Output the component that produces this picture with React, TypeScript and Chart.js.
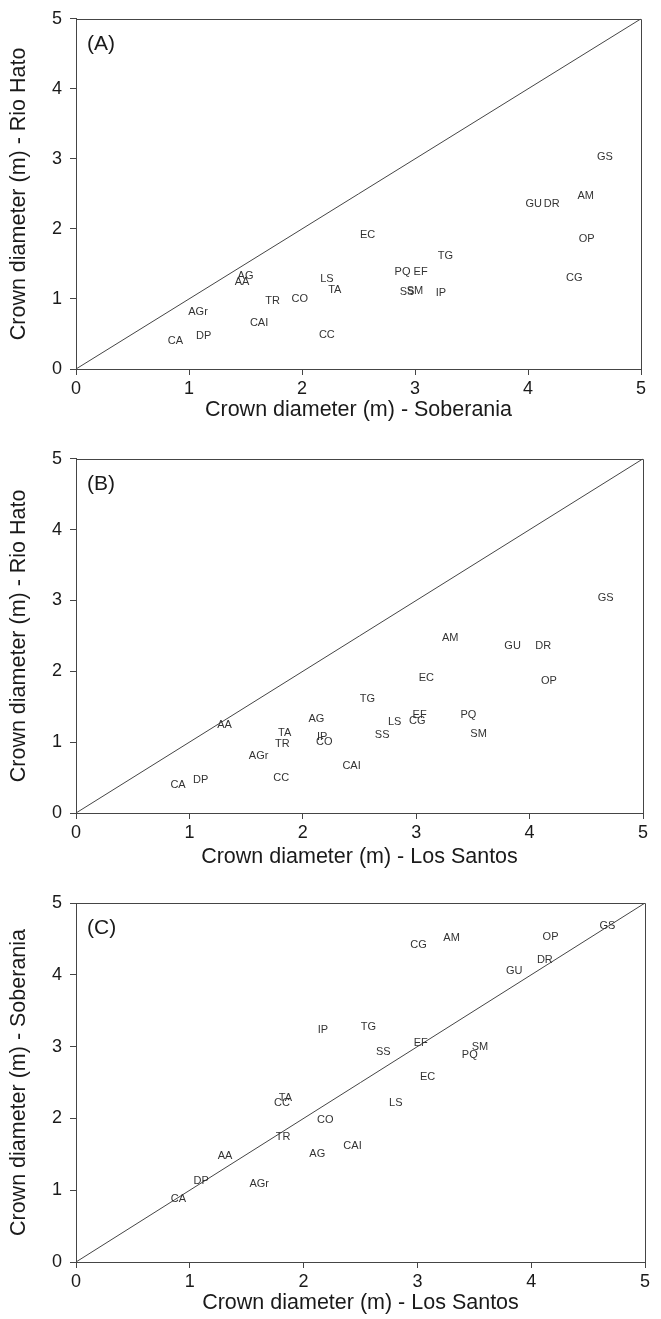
import React, { useEffect, useRef } from "react";
import { Chart, registerables } from "chart.js";

Chart.register(...registerables);

// Species codes
const species = [
  "CA", "DP", "AGr", "AA", "AG", "TR", "CO", "CAI", "CC", "LS", "TA", "SS",
  "SM", "IP", "PQ", "EF", "TG", "EC", "CG", "OP", "GU", "DR", "AM", "GS",
];

// Crown diameter (m) at each site, same order as species
const soberania = [
  0.88, 1.13, 1.08, 1.47, 1.5, 1.74, 1.98, 1.62, 2.22, 2.22, 2.29, 2.93,
  3.0, 3.23, 2.89, 3.05, 3.27, 2.58, 4.41, 4.52, 4.05, 4.21, 4.51, 4.68,
];
const losSantos = [
  0.9, 1.1, 1.61, 1.31, 2.12, 1.82, 2.19, 2.43, 1.81, 2.81, 1.84, 2.7,
  3.55, 2.17, 3.46, 3.03, 2.57, 3.09, 3.01, 4.17, 3.85, 4.12, 3.3, 4.67,
];
const rioHato = [
  0.4, 0.47, 0.81, 1.24, 1.33, 0.97, 1.0, 0.66, 0.49, 1.28, 1.13, 1.1,
  1.11, 1.08, 1.39, 1.39, 1.61, 1.91, 1.3, 1.86, 2.36, 2.36, 2.47, 3.03,
];

// 1:1 reference line end points and axis range
const identityLine = [0, 5];
const axisMin = 0;
const axisMax = 5;
const axisStep = 1;

const panelLetters = ["(A)", "(B)", "(C)"];
const xTitles = [
  "Crown diameter (m) - Soberania",
  "Crown diameter (m) - Los Santos",
  "Crown diameter (m) - Los Santos",
];
const yTitles = [
  "Crown diameter (m) - Rio Hato",
  "Crown diameter (m) - Rio Hato",
  "Crown diameter (m) - Soberania",
];

const FONT = '"Liberation Sans", Arial, Helvetica, sans-serif';
const LINE = "#454545";
const TEXT = "#1a1a1a";

type Layout = {
  top: number;
  height: number;
  padTop: number;
  padRight: number;
  xAxisHeight: number;
  xTitlePad: number;
};

const layouts: Layout[] = [
  { top: 0, height: 440, padTop: 15, padRight: 20, xAxisHeight: 71, xTitlePad: 17 },
  { top: 440, height: 440, padTop: 16, padRight: 18, xAxisHeight: 67, xTitlePad: 10 },
  { top: 880, height: 439, padTop: 23, padRight: 16, xAxisHeight: 57, xTitlePad: 3 },
];

function Panel(props: {
  letter: string;
  xs: number[];
  ys: number[];
  xTitle: string;
  yTitle: string;
  layout: Layout;
}) {
  const ref = useRef<HTMLCanvasElement | null>(null);
  const { letter, xs, ys, xTitle, yTitle, layout } = props;

  useEffect(() => {
    if (!ref.current) return;
    const labelPlugin = {
      id: "labels" + letter,
      afterDatasetsDraw(chart: any) {
        const ctx = chart.ctx;
        const area = chart.chartArea;
        ctx.save();
        // box frame
        ctx.strokeStyle = LINE;
        ctx.lineWidth = 1;
        ctx.beginPath();
        ctx.moveTo(Math.round(area.left) + 0.5, Math.round(area.top) + 0.5);
        ctx.lineTo(Math.round(area.right) + 0.5, Math.round(area.top) + 0.5);
        ctx.lineTo(Math.round(area.right) + 0.5, Math.round(area.bottom) + 0.5);
        ctx.stroke();
        // species labels at each data point
        const meta = chart.getDatasetMeta(1);
        ctx.font = `11px ${FONT}`;
        ctx.fillStyle = "#333";
        ctx.textAlign = "center";
        ctx.textBaseline = "middle";
        meta.data.forEach((el: any, i: number) => {
          ctx.fillText(species[i], el.x, el.y);
        });
        // panel letter
        ctx.font = `21px ${FONT}`;
        ctx.fillStyle = TEXT;
        ctx.textAlign = "left";
        ctx.fillText(letter, area.left + 11, area.top + 25);
        ctx.restore();
      },
    };

    const tickFont = { family: FONT, size: 18 };
    const titleFont = { family: FONT, size: 21.5 };

    const chart = new Chart(ref.current, {
      type: "scatter",
      data: {
        datasets: [
          {
            type: "line",
            data: identityLine.map((v) => ({ x: v, y: v })),
            borderColor: LINE,
            borderWidth: 1,
            pointRadius: 0,
            fill: false,
          } as any,
          {
            data: xs.map((x, i) => ({ x, y: ys[i] })),
            pointRadius: 0,
            pointHoverRadius: 0,
            backgroundColor: "transparent",
            borderColor: "transparent",
          },
        ],
      },
      options: {
        animation: false,
        responsive: false,
        devicePixelRatio: 1,
        events: [],
        layout: {
          padding: { top: layout.padTop, right: layout.padRight, left: 0, bottom: 0 },
        },
        plugins: {
          legend: { display: false },
          tooltip: { enabled: false },
        },
        scales: {
          x: {
            type: "linear",
            min: axisMin,
            max: axisMax,
            afterFit: (s: any) => {
              s.height = layout.xAxisHeight;
            },
            ticks: {
              stepSize: axisStep,
              color: TEXT,
              font: tickFont,
              padding: 3,
              maxRotation: 0,
            },
            grid: {
              display: true,
              drawOnChartArea: false,
              drawTicks: true,
              tickLength: 6,
              color: LINE,
            },
            border: { display: true, color: LINE, width: 1 },
            title: {
              display: true,
              text: xTitle,
              color: TEXT,
              font: titleFont,
              padding: { top: 0, bottom: layout.xTitlePad },
            },
          },
          y: {
            type: "linear",
            min: axisMin,
            max: axisMax,
            afterFit: (s: any) => {
              s.width = 76;
            },
            ticks: {
              stepSize: axisStep,
              color: TEXT,
              font: tickFont,
              padding: 8,
            },
            grid: {
              display: true,
              drawOnChartArea: false,
              drawTicks: true,
              tickLength: 6,
              color: LINE,
            },
            border: { display: true, color: LINE, width: 1 },
            title: {
              display: true,
              text: yTitle,
              color: TEXT,
              font: titleFont,
              padding: { top: 6, bottom: 0 },
            },
          },
        },
      },
      plugins: [labelPlugin],
    } as any);

    return () => {
      chart.destroy();
    };
  }, [letter, xs, ys, xTitle, yTitle, layout]);

  return (
    <canvas
      ref={ref}
      width={661}
      height={layout.height}
      style={{
        position: "absolute",
        left: 0,
        top: layout.top,
        width: 661,
        height: layout.height,
        display: "block",
      }}
    />
  );
}

export default function App() {
  return (
    <div
      style={{
        position: "absolute",
        left: 0,
        top: 0,
        width: 661,
        height: 1319,
        background: "#ffffff",
        overflow: "hidden",
      }}
    >
      <Panel
        letter={panelLetters[0]}
        xs={soberania}
        ys={rioHato}
        xTitle={xTitles[0]}
        yTitle={yTitles[0]}
        layout={layouts[0]}
      />
      <Panel
        letter={panelLetters[1]}
        xs={losSantos}
        ys={rioHato}
        xTitle={xTitles[1]}
        yTitle={yTitles[1]}
        layout={layouts[1]}
      />
      <Panel
        letter={panelLetters[2]}
        xs={losSantos}
        ys={soberania}
        xTitle={xTitles[2]}
        yTitle={yTitles[2]}
        layout={layouts[2]}
      />
    </div>
  );
}
